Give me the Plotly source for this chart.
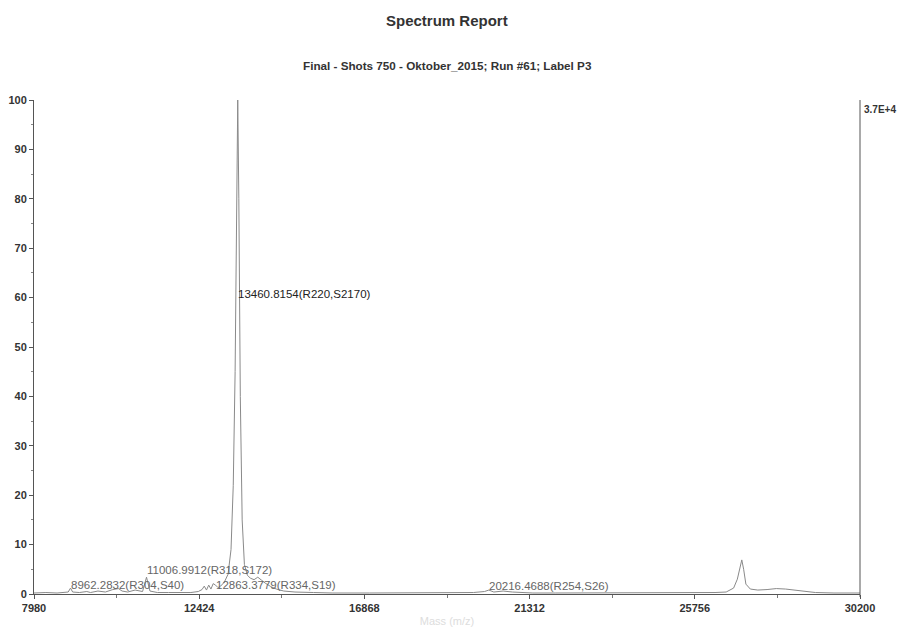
import plotly.graph_objects as go

# Spectrum trace (mass m/z, relative intensity %)
mass = [7980, 8300, 8600, 8900, 8962, 9020, 9200, 9400, 9500, 9700, 9900, 10100, 10250, 10350,
        10500, 10700, 10900, 11007, 11100, 11300, 11600, 11900, 12200, 12400, 12500, 12560,
        12620, 12680, 12740, 12800, 12864, 12930, 13000, 13100, 13200, 13280, 13340, 13390,
        13430, 13460.8, 13490, 13530, 13580, 13640, 13720, 13800, 13900, 14000, 14100, 14200,
        14350, 14500, 14700, 15000, 15500, 16000, 17000, 18000, 19000, 19800, 20100, 20216,
        20350, 20600, 20850, 21100, 21400, 22000, 23000, 24000, 25000, 25800, 26300, 26600,
        26800, 26900, 26970, 27020, 27070, 27130, 27250, 27450, 27700, 27950, 28200, 28450,
        28700, 29000, 29500, 30200]
intensity = [0.2, 0.3, 0.2, 0.4, 1.2, 0.4, 0.3, 0.5, 0.3, 0.6, 0.4, 0.9, 1.1, 0.6,
             0.4, 0.8, 0.5, 3.4, 0.6, 0.3, 0.3, 0.3, 0.3, 0.5, 0.9, 1.6,
             0.8, 1.8, 1.0, 2.1, 1.8, 1.3, 1.6, 2.4, 4.0, 9.0, 22.0, 45.0,
             80.0, 100.0, 80.0, 40.0, 15.0, 6.0, 3.8, 3.2, 2.9, 3.4, 2.8, 2.2,
             1.5, 1.0, 0.6, 0.4, 0.3, 0.2, 0.2, 0.2, 0.2, 0.3, 0.5, 0.8,
             0.4, 0.6, 0.4, 0.3, 0.2, 0.2, 0.2, 0.2, 0.2, 0.2, 0.3, 0.4,
             1.2, 3.0, 5.5, 6.9, 5.0, 2.0, 1.0, 0.8, 0.9, 1.1, 1.0, 0.8,
             0.5, 0.3, 0.2, 0.2]

# Peak labels
label_mass = [13460.8154, 11006.9912, 8962.2832, 12863.3779, 20216.4688]
label_int = [60.5, 4.6, 1.7, 1.7, 1.4]
label_text = ["13460.8154(R220,S2170)", "11006.9912(R318,S172)", "8962.2832(R304,S40)",
              "12863.3779(R334,S19)", "20216.4688(R254,S26)"]
label_color = ["#222222", "#666666", "#666666", "#666666", "#666666"]

x_ticks = [7980, 12424, 16868, 21312, 25756, 30200]
y_ticks = [0, 10, 20, 30, 40, 50, 60, 70, 80, 90, 100]

FONT = "Liberation Sans, Arial"

W, H = 901, 628
ML, MR, MT, MB = 34, 41, 100, 34
plot_h = H - MT - MB

fig = go.Figure()
fig.add_trace(go.Scatter(x=mass, y=intensity, mode="lines",
                         line=dict(color="#8a8a8a", width=1), showlegend=False,
                         hoverinfo="skip"))

for m, h, t, c in zip(label_mass, label_int, label_text, label_color):
    fig.add_annotation(x=m, y=h, text=t, showarrow=False, xanchor="left", yanchor="bottom",
                       xshift=-2, yshift=-7,
                       font=dict(family=FONT, size=11.5, color=c))

fig.add_annotation(x=1, y=1, xref="paper", yref="paper", text="<b>3.7E+4</b>",
                   showarrow=False, xanchor="left", yanchor="top", xshift=2, yshift=-2,
                   font=dict(family=FONT, size=10, color="#333333"))

fig.add_annotation(x=0.5, y=1 + (MT - 20) / plot_h, xref="paper", yref="paper",
                   yanchor="middle", showarrow=False, text="<b>Spectrum Report</b>",
                   font=dict(family=FONT, size=15, color="#333333"))
fig.add_annotation(x=0.5, y=1 + (MT - 65) / plot_h, xref="paper", yref="paper",
                   yanchor="middle", showarrow=False,
                   text="<b>Final - Shots 750 - Oktober_2015; Run #61; Label P3</b>",
                   font=dict(family=FONT, size=11.7, color="#333333"))

fig.add_shape(type="line", xref="paper", yref="paper", x0=1, x1=1, y0=-0.006, y1=1,
              line=dict(color="#555555", width=1))

fig.update_layout(
    width=W, height=H,
    paper_bgcolor="white", plot_bgcolor="white",
    margin=dict(l=ML, r=MR, t=MT, b=MB, autoexpand=False),
    font=dict(family=FONT, color="#333333"),
    hovermode=False,
    xaxis=dict(range=[7980, 30200], tickvals=x_ticks, ticktext=[f"<b>{v}</b>" for v in x_ticks],
               automargin=False,
               showgrid=False, zeroline=False, showline=True, linecolor="#555555", linewidth=1,
               ticks="outside", ticklen=4, tickcolor="#555555",
               minor=dict(ticks="outside", ticklen=3, tick0=7980, dtick=2222, tickcolor="#777777"),
               tickfont=dict(size=11, color="#333333"),
               title=dict(text="Mass (m/z)", font=dict(size=11, color="#dddddd"), standoff=4)),
    yaxis=dict(range=[0, 100], tickvals=y_ticks, ticktext=[f"<b>{v}</b>" for v in y_ticks],
               automargin=False,
               showgrid=False, zeroline=False, showline=True, linecolor="#555555", linewidth=1,
               ticks="outside", ticklen=4, tickcolor="#555555",
               minor=dict(ticks="outside", ticklen=2, tick0=0, dtick=5, tickcolor="#888888"),
               tickfont=dict(size=11, color="#333333")),
)

fig.write_html("out.html", config={"displayModeBar": False},
               post_script="document.body.style.margin='0';document.body.style.overflow='hidden';")
